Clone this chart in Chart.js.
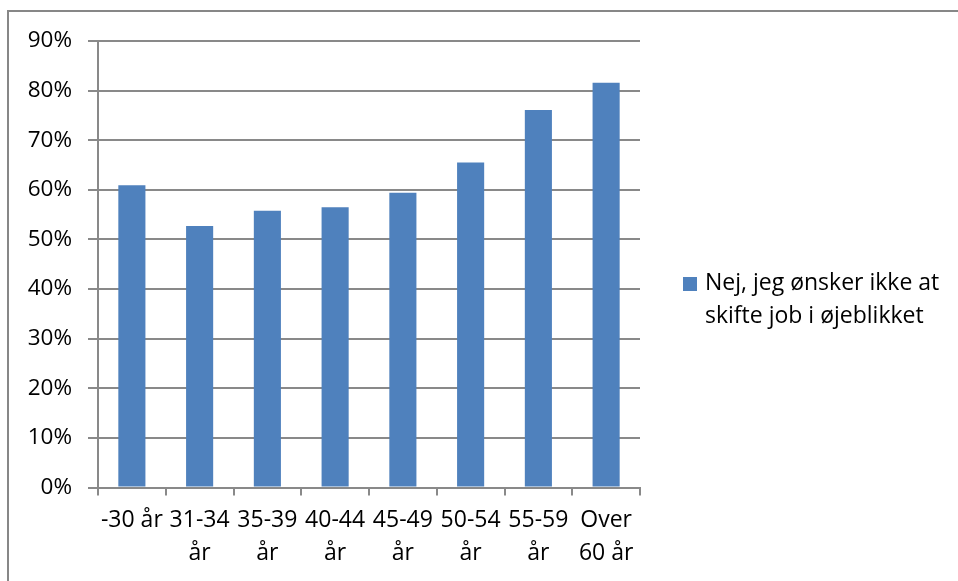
<!DOCTYPE html>
<html>
<head>
<meta charset="utf-8">
<script src="https://cdn.jsdelivr.net/npm/chart.js@4"></script>
<style>
  html, body { margin: 0; padding: 0; background: #fff; }
  #wrap { position: relative; width: 958px; height: 581px; overflow: hidden; }
  #frame { position: absolute; left: 7px; top: 10px; width: 1000px; height: 1000px;
           border-left: 2px solid #878787; border-top: 2px solid #878787; }
  canvas { position: absolute; left: 0; top: 0; }
</style>
</head>
<body>
<div id="wrap">
  <div id="frame"></div>
  <canvas id="c" width="958" height="581"></canvas>
</div>
<script>
// Age groups (two-line labels where the text wraps under the bar)
const categories = [
  ['-30 år'],
  ['31-34', 'år'],
  ['35-39', 'år'],
  ['40-44', 'år'],
  ['45-49', 'år'],
  ['50-54', 'år'],
  ['55-59', 'år'],
  ['Over', '60 år']
];
// Share answering "no" (percent)
const shareNo = [60.9, 52.7, 55.8, 56.5, 59.4, 65.5, 76.1, 81.6];
const seriesLabel = ['Nej, jeg ønsker ikke at', 'skifte job i øjeblikket'];
const yTicks = [0, 10, 20, 30, 40, 50, 60, 70, 80, 90];

const FONT = '"Open Sans", sans-serif';
const BAR = '#4F81BD';
const GRID = '#898989';

// Legend on the right, drawn beside the plot area
const sideLegend = {
  id: 'sideLegend',
  afterDraw(chart) {
    const ctx = chart.ctx;
    const ds = chart.data.datasets[0];
    ctx.save();
    ctx.fillStyle = ds.backgroundColor;
    ctx.fillRect(683, 277, 14, 14);
    ctx.fillStyle = '#000';
    ctx.font = '23px ' + FONT;
    ctx.textBaseline = 'alphabetic';
    ctx.textAlign = 'left';
    ds.legendLines.forEach((t, i) => ctx.fillText(t, 705, 290 + i * 32.5));
    ctx.restore();
  }
};

new Chart(document.getElementById('c'), {
  type: 'bar',
  data: {
    labels: categories,
    datasets: [{
      label: seriesLabel.join(' '),
      legendLines: seriesLabel,
      data: shareNo,
      backgroundColor: BAR,
      borderWidth: 0,
      barPercentage: 0.4,
      categoryPercentage: 1.0
    }]
  },
  options: {
    responsive: false,
    animation: false,
    devicePixelRatio: 1,
    layout: { padding: { left: 0, right: 318, top: 41, bottom: 0 } },
    plugins: { legend: { display: false }, tooltip: { enabled: false } },
    scales: {
      x: {
        afterFit(s) { s.height = 93.5; },
        grid: { display: true, drawOnChartArea: false, drawTicks: true, tickLength: 8,
                color: GRID, lineWidth: 2, offset: true },
        border: { display: true, color: GRID, width: 2 },
        ticks: { color: '#000', padding: 9, maxRotation: 0, autoSkip: false,
                 font: { family: FONT, size: 23, lineHeight: 1.41 } }
      },
      y: {
        min: 0, max: 90,
        afterFit(s) { s.width = 98; },
        afterBuildTicks(s) { s.ticks = yTicks.map(v => ({ value: v })); },
        grid: { color: GRID, lineWidth: 2, drawTicks: true, tickLength: 10 },
        border: { display: true, color: GRID, width: 2 },
        ticks: { color: '#000', padding: 16, stepSize: 10,
                 font: { family: FONT, size: 22.5 },
                 callback: v => v + '%' }
      }
    }
  },
  plugins: [sideLegend]
});
</script>
</body>
</html>
